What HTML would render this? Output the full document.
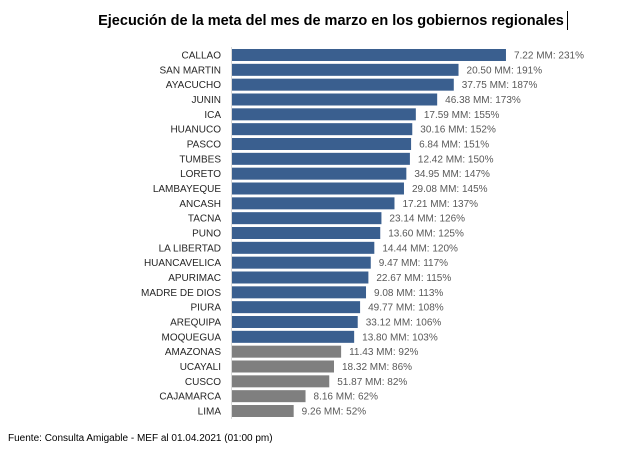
<!DOCTYPE html>
<html><head><meta charset="utf-8"><style>
body{margin:0;background:#fff;width:641px;height:451px;overflow:hidden;font-family:"Liberation Sans",sans-serif}
</style></head><body>
<svg width="641" height="451" xmlns="http://www.w3.org/2000/svg" font-family="Liberation Sans, sans-serif">
<text x="331" y="25" text-anchor="middle" font-size="14.5" font-weight="bold" fill="#000">Ejecución de la meta del mes de marzo en los gobiernos regionales</text>
<line x1="567.5" y1="11" x2="567.5" y2="30" stroke="#000" stroke-width="1"/>
<line x1="231.5" y1="47" x2="231.5" y2="419" stroke="#d9d9d9" stroke-width="1"/>
<g id="bars" font-size="10"></g>
<text x="8" y="441" font-size="10" fill="#000">Fuente: Consulta Amigable - MEF al 01.04.2021 (01:00 pm)</text>
</svg>
<script>
var d=[["CALLAO","7.22",231],["SAN MARTIN","20.50",191],["AYACUCHO","37.75",187],["JUNIN","46.38",173],["ICA","17.59",155],["HUANUCO","30.16",152],["PASCO","6.84",151],["TUMBES","12.42",150],["LORETO","34.95",147],["LAMBAYEQUE","29.08",145],["ANCASH","17.21",137],["TACNA","23.14",126],["PUNO","13.60",125],["LA LIBERTAD","14.44",120],["HUANCAVELICA","9.47",117],["APURIMAC","22.67",115],["MADRE DE DIOS","9.08",113],["PIURA","49.77",108],["AREQUIPA","33.12",106],["MOQUEGUA","13.80",103],["AMAZONAS","11.43",92],["UCAYALI","18.32",86],["CUSCO","51.87",82],["CAJAMARCA","8.16",62],["LIMA","9.26",52]];
var g=document.getElementById("bars"),s="";
var n=d.length,p=(411-55)/(n-1);
for(var i=0;i<n;i++){var c=55+i*p,w=d[i][2]*1.186,col=d[i][2]>=100?"#3a5f8f":"#7f7f7f";
s+='<rect x="232" y="'+(c-6)+'" width="'+w+'" height="12" fill="'+col+'"/>';
s+='<text x="221" y="'+(c+3.5)+'" text-anchor="end" fill="#262626">'+d[i][0]+'</text>';
s+='<text x="'+(232+w+8)+'" y="'+(c+3.5)+'" fill="#595959">'+d[i][1]+' MM: '+d[i][2]+'%</text>';}
g.innerHTML=s;
</script>
</body></html>
